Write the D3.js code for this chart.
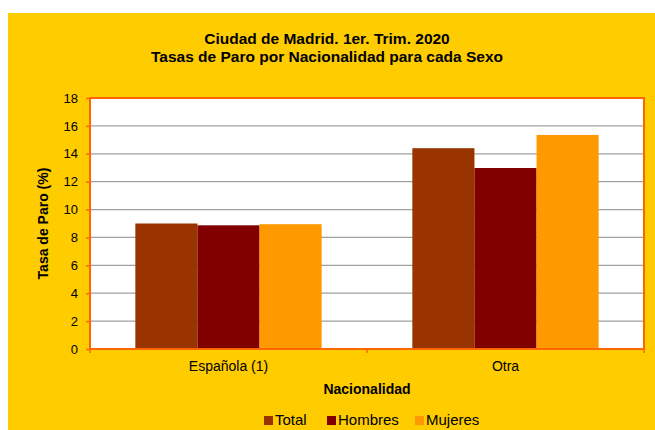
<!DOCTYPE html>
<html lang="es">
<head>
<meta charset="UTF-8">
<title>Tasas de Paro por Nacionalidad</title>
<script src="https://d3js.org/d3.v7.min.js"></script>
<style>
  body { margin: 0; background: #fff; }
  text { font-family: "Liberation Sans", Arial, sans-serif; fill: #000; }
</style>
</head>
<body>
<div id="chart"></div>
<script>
// data
var categories = ["Española (1)", "Otra"];
var seriesNames = ["Total", "Hombres", "Mujeres"];
var total   = [9.0, 14.4];
var hombres = [8.87, 12.98];
var mujeres = [8.95, 15.35];
var yTicks = [0, 2, 4, 6, 8, 10, 12, 14, 16, 18];
var colors = ["#993300", "#800000", "#FF9900"];

var W = 655, H = 430;
var plot = {left: 90, top: 98, right: 644, bottom: 349};

var svg = d3.select("#chart").append("svg")
  .attr("width", W).attr("height", H);

// yellow chart area
svg.append("rect")
  .attr("x", 8).attr("y", 13)
  .attr("width", W).attr("height", H)
  .attr("fill", "#FFCC00");

// scales
var x0 = d3.scaleBand().domain(categories).range([plot.left, plot.right]).padding(0);
var x1 = d3.scaleBand().domain(seriesNames).range([0, x0.bandwidth()]).paddingInner(0).paddingOuter(0.73);
var y = d3.scaleLinear().domain([0, 18]).range([plot.bottom, plot.top]);

// plot background
svg.append("rect")
  .attr("x", plot.left).attr("y", plot.top)
  .attr("width", plot.right - plot.left).attr("height", plot.bottom - plot.top)
  .attr("fill", "#fff");

// gridlines
svg.append("g").selectAll("line")
  .data(yTicks.filter(function(d){ return d > 0 && d < 18; }))
  .enter().append("line")
  .attr("x1", plot.left).attr("x2", plot.right)
  .attr("y1", function(d){ return y(d); })
  .attr("y2", function(d){ return y(d); })
  .attr("stroke", "#A0A0A0").attr("stroke-width", 1.2);

// bars
var values = [total, hombres, mujeres];
var rows = [];
categories.forEach(function(c, i){
  seriesNames.forEach(function(s, j){
    rows.push({cat: c, ser: s, v: values[j][i], color: colors[j]});
  });
});

svg.append("g").selectAll("rect")
  .data(rows)
  .enter().append("rect")
  .attr("x", function(d){ return x0(d.cat) + x1(d.ser); })
  .attr("y", function(d){ return y(d.v); })
  .attr("width", x1.bandwidth())
  .attr("height", function(d){ return y(0) - y(d.v); })
  .attr("fill", function(d){ return d.color; });

// plot border
svg.append("rect")
  .attr("x", plot.left).attr("y", plot.top)
  .attr("width", plot.right - plot.left).attr("height", plot.bottom - plot.top)
  .attr("fill", "none").attr("stroke", "#FF6600").attr("stroke-width", 2);

// y axis
var yAxis = svg.append("g")
  .attr("transform", "translate(" + plot.left + ",0)")
  .call(d3.axisLeft(y).tickValues(yTicks).tickSize(4).tickPadding(8));
yAxis.select(".domain").remove();
yAxis.selectAll(".tick line").attr("stroke", "#FF6600").attr("stroke-width", 1.5);
yAxis.selectAll(".tick text")
  .style("font-size", "13px")
  .style("font-family", "'Liberation Sans', Arial, sans-serif")
  .attr("fill", "#000");

// x axis ticks on the band edges
var edges = [plot.left, plot.left + x0.step(), plot.right];
svg.append("g").selectAll("line")
  .data(edges).enter().append("line")
  .attr("x1", function(d){ return d; }).attr("x2", function(d){ return d; })
  .attr("y1", plot.bottom).attr("y2", plot.bottom + 4)
  .attr("stroke", "#FF6600").attr("stroke-width", 1.5);

// category labels
svg.append("g").selectAll("text")
  .data(categories).enter().append("text")
  .attr("x", function(d){ return x0(d) + x0.bandwidth() / 2; })
  .attr("y", 371)
  .attr("text-anchor", "middle")
  .style("font-size", "14px")
  .text(function(d){ return d; });

// axis titles
svg.append("text")
  .attr("x", (plot.left + plot.right) / 2).attr("y", 394)
  .attr("text-anchor", "middle")
  .style("font-size", "14px").style("font-weight", "bold")
  .text("Nacionalidad");

svg.append("text")
  .attr("transform", "translate(48," + (plot.top + plot.bottom) / 2 + ") rotate(-90)")
  .attr("text-anchor", "middle")
  .style("font-size", "14px").style("font-weight", "bold")
  .text("Tasa de Paro (%)");

// title
svg.append("text")
  .attr("x", 327).attr("y", 44)
  .attr("text-anchor", "middle")
  .style("font-size", "15.5px").style("font-weight", "bold")
  .text("Ciudad de Madrid. 1er. Trim. 2020");
svg.append("text")
  .attr("x", 327).attr("y", 62)
  .attr("text-anchor", "middle")
  .style("font-size", "15.5px").style("font-weight", "bold")
  .text("Tasas de Paro por Nacionalidad para cada Sexo");

// legend (kept just inside the bottom edge)
var legendX = [264, 327, 415];
var lg = svg.append("g").selectAll("g")
  .data(seriesNames).enter().append("g")
  .attr("transform", function(d, i){ return "translate(" + legendX[i] + ",416)"; });
lg.append("rect")
  .attr("width", 9).attr("height", 9)
  .attr("fill", function(d, i){ return colors[i]; });
lg.append("text")
  .attr("x", 11).attr("y", 9)
  .style("font-size", "15px")
  .text(function(d){ return d; });
</script>
</body>
</html>
